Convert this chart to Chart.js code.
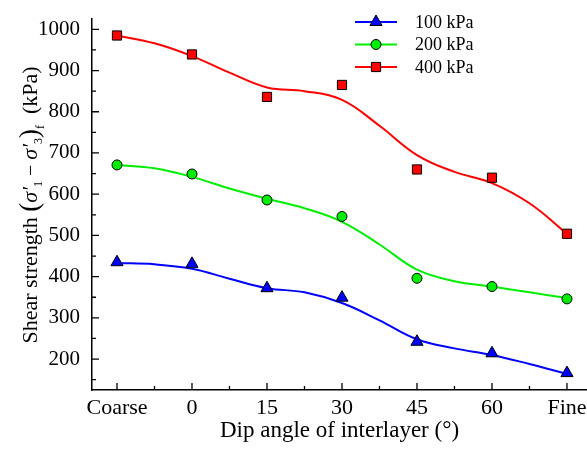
<!DOCTYPE html>
<html>
<head>
<meta charset="utf-8">
<script src="https://cdn.jsdelivr.net/npm/chart.js@4/dist/chart.umd.min.js"></script>
<style>
  html, body { margin: 0; padding: 0; background: #fff; }
  #wrap { width: 587px; height: 449px; position: relative; }
</style>
</head>
<body>
<div id="wrap"><canvas id="chart"></canvas></div>
<script>
// ── Data ──────────────────────────────────────────────
const categories = ['Coarse', '0', '15', '30', '45', '60', 'Fine'];
const yTicks = [200, 300, 400, 500, 600, 700, 800, 900, 1000];

// measured points
const pts100 = [435, 431, 372, 349, 242, 214, 166];
const pts200 = [671, 649, 586, 546, 396, 376, 346];
const pts400 = [985, 939, 836, 865, 660, 640, 504];

// fitted curves, sampled every half category
const curveX = [0, 0.5, 1, 1.5, 2, 2.5, 3, 3.5, 4, 4.5, 5, 5.5, 6];
const fit100 = [433, 430, 419, 395, 372, 362, 336, 294, 248, 226, 210, 188, 164];
const fit200 = [671, 663, 642, 614, 589, 566, 533, 478, 417, 389, 376, 362, 348];
const fit400 = [985, 966, 935, 895, 859, 850, 829, 766, 695, 654, 627, 578, 504];

const BLUE = '#0000ff', GREEN = '#00ee00', RED = '#ff0000';
const SERIF = '"Liberation Serif", "DejaVu Serif", serif';

// plot box (layout only)
const AREA = { left: 92, top: 19, right: 587, bottom: 390 };

const toXY = (xs, ys) => ys.map((v, i) => ({ x: xs[i], y: v }));
const catX = categories.map((_, i) => i);

function curve(label, xs, ys, color) {
    return {
        label, data: toXY(xs, ys), borderColor: color, borderWidth: 2,
        pointRadius: 0, tension: 0.4,
        showLine: true, fill: false, order: 2,
    };
}
function marks(label, ys, color, style, r) {
    return {
        label, data: toXY(catX, ys), showLine: false,
        pointStyle: style, pointRadius: r, pointHoverRadius: r,
        backgroundColor: color, borderColor: '#000', pointBorderWidth: 1, order: 1,
    };
}

// ── Pin the plot box to the reference layout ──────────
const fixArea = {
    id: 'fixArea',
    afterLayout(chart) {
        const a = chart.chartArea;
        Object.assign(a, AREA, { width: AREA.right - AREA.left, height: AREA.bottom - AREA.top });
        const xs = chart.scales.x, ys = chart.scales.y;
        Object.assign(xs, { left: AREA.left, right: AREA.right, width: AREA.right - AREA.left,
                            top: AREA.bottom, bottom: chart.height, height: chart.height - AREA.bottom });
        Object.assign(ys, { top: AREA.top, bottom: AREA.bottom, height: AREA.bottom - AREA.top,
                            left: 0, right: AREA.left, width: AREA.left });
        xs.configure();
        ys.configure();
    }
};

// ── Inward ticks, legend, y title ─────────────────────
const decor = {
    id: 'decor',
    afterDraw(chart) {
        const ctx = chart.ctx, xs = chart.scales.x, ys = chart.scales.y;
        const ax = chart.chartArea.left, ay = chart.chartArea.bottom;
        ctx.save();
        ctx.strokeStyle = '#000';
        ctx.lineWidth = 1.3;
        ctx.beginPath();
        for (let v = 150; v <= 1000; v += 50) {
            const p = ys.getPixelForValue(v);
            const len = v % 100 === 0 ? 7 : 4;
            ctx.moveTo(ax, p); ctx.lineTo(ax + len, p);
        }
        for (let v = 0; v <= 6; v += 0.5) {
            const p = xs.getPixelForValue(v);
            const len = Number.isInteger(v) ? 7 : 4;
            ctx.moveTo(p, ay); ctx.lineTo(p, ay - len);
        }
        ctx.stroke();

        // legend
        const rows = [
            ['100 kPa', BLUE, 'triangle', 7],
            ['200 kPa', GREEN, 'circle', 5],
            ['400 kPa', RED, 'rect', 6.5],
        ];
        rows.forEach(([txt, col, style, r], i) => {
            const y = 22 + i * 22.5;
            ctx.strokeStyle = col; ctx.lineWidth = 2;
            ctx.beginPath(); ctx.moveTo(355, y); ctx.lineTo(397, y); ctx.stroke();
            ctx.fillStyle = col; ctx.strokeStyle = '#000'; ctx.lineWidth = 1;
            Chart.helpers.drawPoint(ctx, { pointStyle: style, radius: r, rotation: 0, borderWidth: 1 }, 376, y);
            ctx.fillStyle = '#000';
            ctx.font = '18px ' + SERIF;
            ctx.textBaseline = 'middle'; ctx.textAlign = 'left';
            ctx.fillText(txt, 415, y + 1);
        });

        // y axis title with subscripts
        const parts = [
            ['Shear strength ', 'normal 22px', 0],
            ['(', 'normal 27px', 1],
            ['σ′', 'italic 22px', 0],
            ['1', 'normal 12px', 5],
            [' − ', 'normal 20px', 0],
            ['σ′', 'italic 22px', 0],
            ['3', 'normal 12px', 5],
            [')', 'normal 27px', 1],
            ['f', 'normal 12px', 7],
            ['  (kPa)', 'normal 22px', 0],
        ];
        let total = 0;
        parts.forEach(p => { ctx.font = p[1] + ' ' + SERIF; total += ctx.measureText(p[0]).width; });
        ctx.translate(37, 205);
        ctx.rotate(-Math.PI / 2);
        ctx.textAlign = 'left'; ctx.textBaseline = 'alphabetic';
        ctx.fillStyle = '#000';
        let x = -total / 2;
        parts.forEach(p => {
            ctx.font = p[1] + ' ' + SERIF;
            ctx.fillText(p[0], x, p[2]);
            x += ctx.measureText(p[0]).width;
        });
        ctx.restore();
    }
};

new Chart(document.getElementById('chart'), {
    type: 'scatter',
    data: {
        datasets: [
            curve('100 kPa fit', curveX, fit100, BLUE),
            curve('200 kPa fit', curveX, fit200, GREEN),
            curve('400 kPa fit', curveX, fit400, RED),
            marks('100 kPa', pts100, BLUE, 'triangle', 7),
            marks('200 kPa', pts200, GREEN, 'circle', 5),
            marks('400 kPa', pts400, RED, 'rect', 6.5),
        ],
    },
    options: {
        responsive: true,
        maintainAspectRatio: false,
        animation: false,
        events: [],
        layout: { autoPadding: false, padding: { top: 19, right: 0, left: 0, bottom: 0 } },
        plugins: { legend: { display: false }, tooltip: { enabled: false } },
        scales: {
            x: {
                type: 'linear', min: -1 / 3, max: 6.267,
                afterBuildTicks: s => { s.ticks = catX.map(v => ({ value: v })); },
                afterFit: s => { s.height = 59; },
                grid: { display: false, drawTicks: false },
                border: { color: '#000', width: 1.5 },
                ticks: {
                    color: '#000', padding: 5, maxRotation: 0, autoSkip: false,
                    font: { family: SERIF, size: 22 },
                    callback: v => categories[v],
                },
                title: {
                    display: true, text: 'Dip angle of interlayer (°)', color: '#000',
                    font: { family: SERIF, size: 23 }, padding: { top: 0, bottom: 4 },
                },
            },
            y: {
                min: 125, max: 1025,
                afterBuildTicks: s => { s.ticks = yTicks.map(v => ({ value: v })); },
                afterFit: s => { s.width = 92; },
                grid: { display: false, drawTicks: false },
                border: { color: '#000', width: 1.5 },
                ticks: {
                    color: '#000', padding: 12,
                    font: { family: SERIF, size: 21 },
                    callback: v => String(v),
                },
            },
        },
    },
    plugins: [fixArea, decor],
});
</script>
</body>
</html>
